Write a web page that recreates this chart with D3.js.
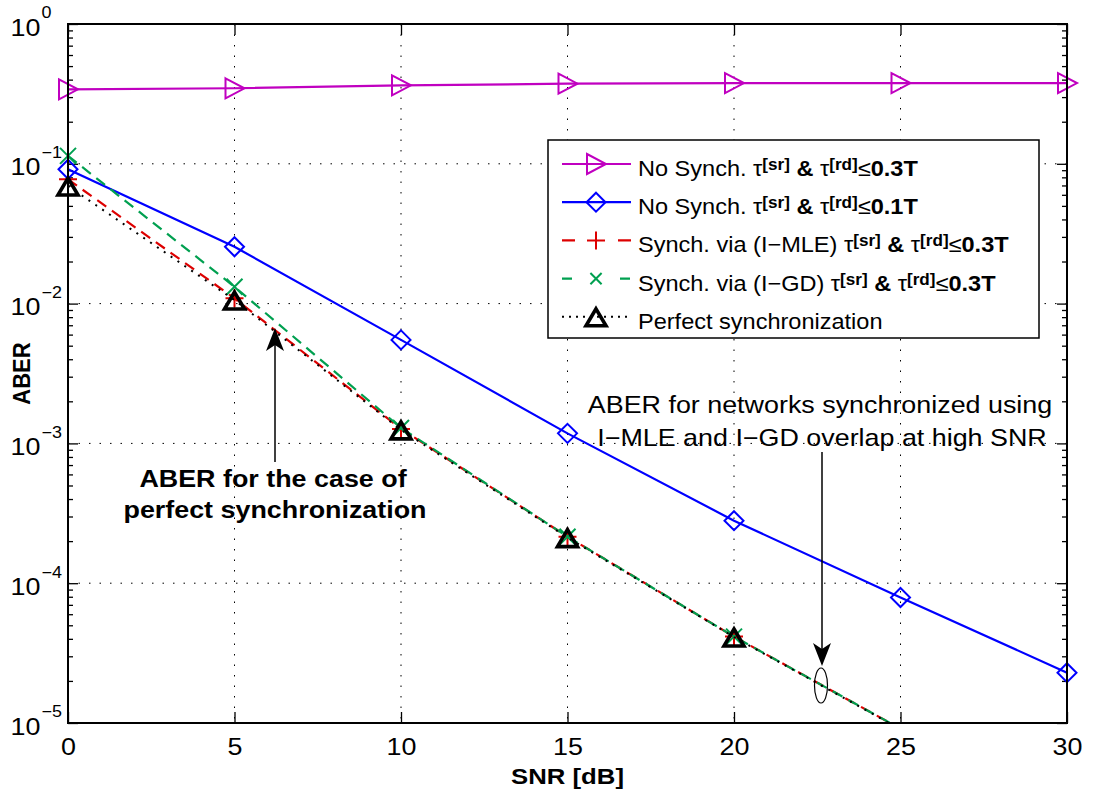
<!DOCTYPE html>
<html>
<head>
<meta charset="utf-8">
<script src="https://cdn.jsdelivr.net/npm/d3@7"></script>
<style>
  body { margin: 0; background: #fff; }
  svg { display: block; font-family: "Liberation Sans", Arial, Helvetica, sans-serif; }
</style>
</head>
<body>
<svg id="chart" width="1094" height="796"></svg>
<script>
// ---- data -------------------------------------------------------------
const snrAll  = [0, 5, 10, 15, 20, 25, 30];
const noSync03 = [0.341, 0.347, 0.364, 0.374, 0.378, 0.378, 0.378];
const noSync01 = [0.0914, 0.0255, 0.0055, 0.00118, 0.00028, 0.000079, 0.0000229];

const snrSync = [0, 5, 10, 15, 20, 25];
const syncMLE = [0.0775, 0.0109, 0.00127, 0.000215, 0.0000415, 0.0000091];
const syncGD  = [0.114, 0.0132, 0.00129, 0.000215, 0.0000415, 0.0000091];
const perfectSync = [0.0694, 0.0106, 0.00125, 0.000212, 0.0000412, 0.000009];

const xTicks = [0, 5, 10, 15, 20, 25, 30];
const yExponents = [0, -1, -2, -3, -4, -5];

// ---- layout -----------------------------------------------------------
const SX = 1.12;               // horizontal glyph stretch of the figure's text
const svg = d3.select("#chart");
const x = d3.scaleLinear().domain([0, 30]).range([68, 1067]);
const y = d3.scaleLog().domain([1e-5, 1]).range([723, 24]);
const [x0, x1] = x.range();
const [yb, yt] = y.range();

function stext(parent, px, py, o) {
  return parent.append("text")
    .attr("transform", `translate(${px},${py}) scale(${o.sx || SX},1)`)
    .attr("text-anchor", o.anchor || "start")
    .style("font-size", o.size + "px")
    .style("font-weight", o.weight || "normal")
    .attr("fill", "#000")
    .text(o.text == null ? null : o.text);
}

// ---- grid -------------------------------------------------------------
const grid = svg.append("g")
  .attr("stroke", "#000").attr("stroke-width", 1).attr("stroke-dasharray", "1.5,9");
grid.selectAll("line.gx").data(xTicks.slice(1, -1)).join("line").attr("class", "gx")
  .attr("x1", d => x(d)).attr("x2", d => x(d)).attr("y1", yt).attr("y2", yb);
grid.selectAll("line.gy").data(yExponents.slice(1, -1)).join("line").attr("class", "gy")
  .attr("y1", d => y(Math.pow(10, d))).attr("y2", d => y(Math.pow(10, d)))
  .attr("x1", x0).attr("x2", x1);

// ---- axes / ticks -----------------------------------------------------
const majorY = yExponents.map(e => Math.pow(10, e));
const minorY = [];
yExponents.slice(1).forEach(e => { for (let k = 2; k <= 9; k++) minorY.push(k * Math.pow(10, e)); });

function styleAxis(g) {
  g.select(".domain").remove();
  g.selectAll(".tick line").attr("stroke", "#000").attr("stroke-width", 1.3);
}

const xb = svg.append("g").attr("transform", `translate(0,${yb})`)
  .call(d3.axisBottom(x).tickValues(xTicks).tickSizeInner(-11).tickSizeOuter(0).tickFormat(d3.format("d")))
  .call(styleAxis);
xb.selectAll(".tick text")
  .attr("y", 0).attr("dy", 0)
  .attr("transform", `translate(0,32) scale(${SX},1)`)
  .attr("fill", "#000")
  .style("font-size", "24px")
  .style("font-family", "'Liberation Sans', Arial, sans-serif");

svg.append("g").attr("transform", `translate(0,${yt})`)
  .call(d3.axisTop(x).tickValues(xTicks).tickSizeInner(-11).tickSizeOuter(0).tickFormat(""))
  .call(styleAxis);

[[d3.axisLeft, x0], [d3.axisRight, x1]].forEach(([ax, px]) => {
  svg.append("g").attr("transform", `translate(${px},0)`)
    .call(ax(y).tickValues(minorY).tickSizeInner(-5).tickSizeOuter(0).tickFormat(""))
    .call(styleAxis);
  svg.append("g").attr("transform", `translate(${px},0)`)
    .call(ax(y).tickValues(majorY).tickSizeInner(-10).tickSizeOuter(0).tickFormat(""))
    .call(styleAxis);
});

// y tick labels: 10 with a raised exponent
const yLab = svg.append("g");
yExponents.forEach(e => {
  const py = y(Math.pow(10, e));
  stext(yLab, 40.5, py + 11.5, { text: "10", size: 24, anchor: "end" });
  stext(yLab, 41.5, py - 5.7, { text: e === 0 ? "0" : "\u2212" + Math.abs(e), size: 16 });
});

// axis titles
stext(svg, (x0 + x1) / 2, 784, { text: "SNR [dB]", size: 23, weight: "bold", anchor: "middle" });
svg.append("text")
  .attr("transform", `translate(30,${(yt + yb) / 2}) scale(${SX},1) rotate(-90)`)
  .attr("text-anchor", "middle")
  .style("font-size", "22px").style("font-weight", "bold")
  .text("ABER");

// ---- series -----------------------------------------------------------
const series = [
  { name: "noSync03", xs: snrAll,  ys: noSync03,   color: "#c000c0", dash: null,      width: 2.2, marker: "triRight" },
  { name: "noSync01", xs: snrAll,  ys: noSync01,   color: "#0000ff", dash: null,      width: 2.2, marker: "diamond" },
  { name: "syncMLE",  xs: snrSync, ys: syncMLE,    color: "#dd0000", dash: "11,7",    width: 2.2, marker: "plus" },
  { name: "syncGD",   xs: snrSync, ys: syncGD,     color: "#00a050", dash: "11,7",    width: 2.2, marker: "cross" },
  { name: "perfect",  xs: snrSync, ys: perfectSync, color: "#000",   dash: "2,6.3",   width: 2.0, marker: "triUp" }
];

function markerPath(type, s) {
  s = s || 1;
  switch (type) {
    case "triRight": return `M${-9*s},${-10*s}L${10*s},0L${-9*s},${10*s}Z`;
    case "diamond":  return `M0,${-9.5*s}L${9.5*s},0L0,${9.5*s}L${-9.5*s},0Z`;
    case "plus":     return `M${-9*s},0H${9*s}M0,${-9*s}V${9*s}`;
    case "cross":    return `M${-8*s},${-8*s}L${8*s},${8*s}M${-8*s},${8*s}L${8*s},${-8*s}`;
    case "triUp":    return `M0,${-8*s}L${10*s},${9*s}L${-10*s},${9*s}Z`;
  }
}
function drawMarker(g, type, color, px, py, s) {
  g.append("path")
    .attr("d", markerPath(type, s))
    .attr("transform", `translate(${px},${py})`)
    .attr("fill", "none")
    .attr("stroke", color)
    .attr("stroke-width", type === "triUp" ? 3.6 : 2)
    .attr("stroke-linejoin", "miter");
}

svg.append("clipPath").attr("id", "plotClip")
  .append("rect").attr("x", x0).attr("y", yt).attr("width", x1 - x0).attr("height", yb - yt);

const line = d3.line().x(d => x(d[0])).y(d => y(d[1]));
const plot = svg.append("g");
series.forEach(s => {
  const pts = s.xs.map((v, i) => [v, s.ys[i]]);
  const sg = plot.append("g");
  sg.append("path")
    .attr("d", line(pts))
    .attr("clip-path", "url(#plotClip)")
    .attr("fill", "none")
    .attr("stroke", s.color)
    .attr("stroke-width", s.width)
    .attr("stroke-dasharray", s.dash);
  pts.filter(p => p[1] >= y.domain()[0]).forEach(p => drawMarker(sg, s.marker, s.color, x(p[0]), y(p[1])));
});

// axes frame
svg.append("rect").attr("x", x0).attr("y", yt).attr("width", x1 - x0).attr("height", yb - yt)
  .attr("fill", "none").attr("stroke", "#000").attr("stroke-width", 2);

// ---- legend -----------------------------------------------------------
const legendRows = [
  [{ t: "No Synch. " }, { t: "\u03c4" }, { t: "[sr]", b: 1, sup: 1 }, { t: " & ", b: 1 }, { t: "\u03c4" }, { t: "[rd]", b: 1, sup: 1 }, { t: "\u2264" }, { t: "0.3T", b: 1 }],
  [{ t: "No Synch. " }, { t: "\u03c4" }, { t: "[sr]", b: 1, sup: 1 }, { t: " & ", b: 1 }, { t: "\u03c4" }, { t: "[rd]", b: 1, sup: 1 }, { t: "\u2264" }, { t: "0.1T", b: 1 }],
  [{ t: "Synch. via (I\u2212MLE) " }, { t: "\u03c4" }, { t: "[sr]", b: 1, sup: 1 }, { t: " & ", b: 1 }, { t: "\u03c4" }, { t: "[rd]", b: 1, sup: 1 }, { t: "\u2264" }, { t: "0.3T", b: 1 }],
  [{ t: "Synch. via (I\u2212GD) " }, { t: "\u03c4" }, { t: "[sr]", b: 1, sup: 1 }, { t: " & ", b: 1 }, { t: "\u03c4" }, { t: "[rd]", b: 1, sup: 1 }, { t: "\u2264" }, { t: "0.3T", b: 1 }],
  [{ t: "Perfect synchronization" }]
];
const legendSampleDash = ["", "", "13,43", "10,48", "2,5"];
const legendMarkerScale = [1, 1, 1, 0.7, 1];

const lg = svg.append("g");
lg.append("rect").attr("x", 548).attr("y", 140).attr("width", 491).attr("height", 198)
  .attr("fill", "#fff").attr("stroke", "#000").attr("stroke-width", 1.5);
series.forEach((s, i) => {
  const base = 176 + i * 38.2;
  const ly = base - 12;
  lg.append("line").attr("x1", 562).attr("x2", 631).attr("y1", ly).attr("y2", ly)
    .attr("stroke", s.color).attr("stroke-width", s.width)
    .attr("stroke-dasharray", legendSampleDash[i] || null);
  drawMarker(lg, s.marker, s.color, 596, ly, legendMarkerScale[i]);
  const t = stext(lg, 638, base, { size: 22, sx: 1.07 });
  let raised = false;
  legendRows[i].forEach(p => {
    const ts = t.append("tspan").text(p.t)
      .style("font-weight", p.b ? "bold" : "normal")
      .style("font-size", p.sup ? "16px" : "22px");
    if (p.sup && !raised) { ts.attr("dy", -6); raised = true; }
    else if (!p.sup && raised) { ts.attr("dy", 6); raised = false; }
  });
});

// ---- annotations ------------------------------------------------------
const ann = svg.append("g");
function arrow(g, xTail, yTail, yTip) {
  const dir = Math.sign(yTip - yTail);
  g.append("line").attr("x1", xTail).attr("x2", xTail).attr("y1", yTail).attr("y2", yTip - dir * 16)
    .attr("stroke", "#000").attr("stroke-width", 1.5);
  g.append("path")
    .attr("d", `M${xTail},${yTip}L${xTail + 9},${yTip - dir * 23}L${xTail},${yTip - dir * 17}L${xTail - 9},${yTip - dir * 23}Z`)
    .attr("fill", "#000");
}
arrow(ann, 275, 462, 328);
stext(ann, 273, 487, { text: "ABER for the case of", size: 24, weight: "bold", anchor: "middle" });
stext(ann, 275, 518, { text: "perfect synchronization", size: 24, weight: "bold", anchor: "middle" });

arrow(ann, 822, 452, 666);
stext(ann, 820, 413, { text: "ABER for networks synchronized using", size: 24, anchor: "middle" });
stext(ann, 822, 445.5, { text: "I\u2212MLE and I\u2212GD overlap at high SNR", size: 24, anchor: "middle" });
ann.append("ellipse").attr("cx", 821).attr("cy", 685.5).attr("rx", 6.5).attr("ry", 17.5)
  .attr("fill", "none").attr("stroke", "#000").attr("stroke-width", 1.2);
</script>
</body>
</html>
